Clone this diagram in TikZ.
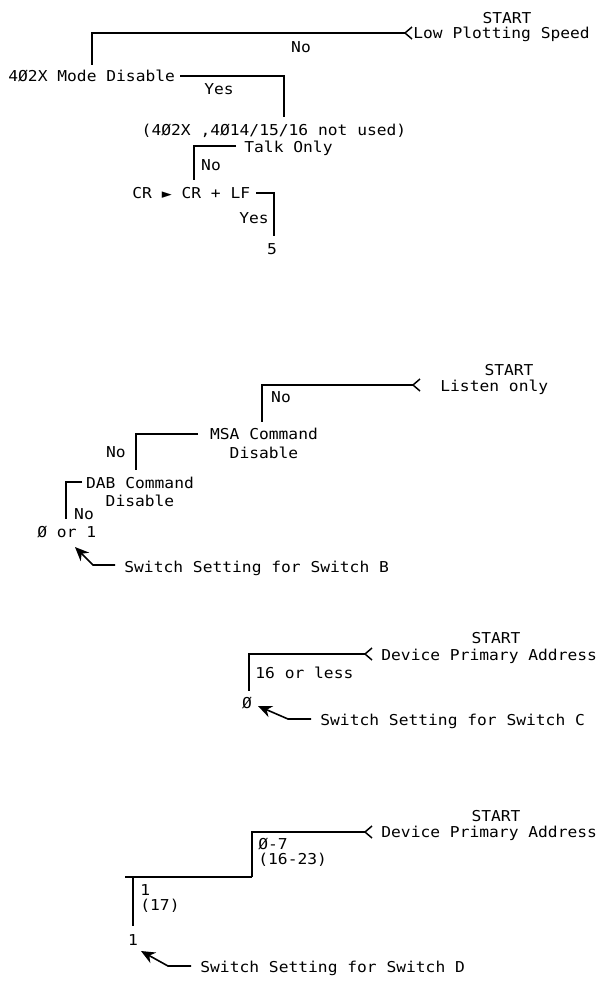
\documentclass[tikz,border=0pt]{standalone}
\usepackage{fontspec}
\usetikzlibrary{arrows.meta}
\newfontfamily\plotfont[FakeStretch=1.085]{DejaVu Sans Mono}
\newfontfamily\symfont{DejaVu Sans}
\begin{document}
\begin{tikzpicture}[x=0.5pt,y=-0.5pt,
  txt/.style={inner sep=0pt, font=\plotfont\fontsize{7.5}{9}\selectfont, text height=5.4pt, text depth=0pt},
  lbl/.style={txt, anchor=west},
  wire/.style={line width=0.8pt, line join=miter},
  barb/.style={line width=0.75pt},
  pointer/.style={line width=0.8pt, -{Stealth[length=7pt,width=6pt]}}]
\useasboundingbox (0,0) rectangle (602,981);

% ---------- Section 1 ----------
\node[txt] (s1) at (507,18) {START};
\node[lbl] (lps) at (413,33) {Low Plotting Speed};
\coordinate (t1) at (405,33);
\coordinate (c1) at (92,33);
\coordinate (e1) at (92,65);
\draw[wire] (t1) -- (c1) -- (e1);
\draw[barb] (t1) ++(7,-6) -- (t1) -- ++(7,6);
\node[txt] (no1) at (301,47) {No};
\node[lbl] (mode) at (8,76) {4Ø2X Mode Disable};
\coordinate (m1) at (180,76);
\coordinate (m2) at (284,76);
\coordinate (m3) at (284,117);
\draw[wire] (m1) -- (m2) -- (m3);
\node[txt] (yes1) at (219,89) {Yes};
\node[txt] (nu) at (274,130) {(4Ø2X ,4Ø14/15/16 not used)};
\node[lbl] (talk) at (244,147) {Talk Only};
\coordinate (k1) at (236,146);
\coordinate (k2) at (194,146);
\coordinate (k3) at (194,180);
\draw[wire] (k1) -- (k2) -- (k3);
\node[txt] (no2) at (211,165) {No};
\node[lbl] (crlf) at (132,193) {CR {\symfont\fontsize{6.5}{8}\selectfont ►} CR + LF};
\coordinate (l1) at (256,193);
\coordinate (l2) at (274,193);
\coordinate (l3) at (274,236);
\draw[wire] (l1) -- (l2) -- (l3);
\node[txt] (yes2) at (254,218) {Yes};
\node[txt] (five) at (272,249) {5};

% ---------- Section 2 ----------
\node[txt] (s2) at (509,370) {START};
\node[lbl] (listen) at (440,386) {Listen only};
\coordinate (t2) at (413,385);
\coordinate (c2) at (262,385);
\coordinate (e2) at (262,422);
\draw[wire] (t2) -- (c2) -- (e2);
\draw[barb] (t2) ++(7,-6) -- (t2) -- ++(7,6);
\node[txt] (no3) at (281,397) {No};
\node[txt] (msa1) at (264,434) {MSA Command};
\node[txt] (msa2) at (264,453) {Disable};
\coordinate (n1) at (198,434);
\coordinate (n2) at (136,434);
\coordinate (n3) at (136,470);
\draw[wire] (n1) -- (n2) -- (n3);
\node[txt] (no4) at (116,452) {No};
\node[txt] (dab1) at (140,483) {DAB Command};
\node[txt] (dab2) at (140,501) {Disable};
\coordinate (d1) at (82,482);
\coordinate (d2) at (66,482);
\coordinate (d3) at (66,519);
\draw[wire] (d1) -- (d2) -- (d3);
\node[txt] (no5) at (84,514) {No};
\node[lbl] (zo) at (37,532) {Ø or 1};
\node[lbl] (swb) at (124,567) {Switch Setting for Switch B};
\coordinate (b1) at (115,565);
\coordinate (b2) at (93,565);
\coordinate (b3) at (75,547);
\draw[pointer] (b1) -- (b2) -- (b3);

% ---------- Section 3 ----------
\node[txt] (s3) at (496,638) {START};
\node[lbl] (dpa1) at (381,655) {Device Primary Address};
\coordinate (t3) at (365,654);
\coordinate (c3) at (249,654);
\coordinate (e3) at (249,691);
\draw[wire] (t3) -- (c3) -- (e3);
\draw[barb] (t3) ++(7,-6) -- (t3) -- ++(7,6);
\node[lbl] (less) at (255,673) {16 or less};
\node[txt] (zero) at (247,703) {Ø};
\node[lbl] (swc) at (320,720) {Switch Setting for Switch C};
\coordinate (q1) at (311,719);
\coordinate (q2) at (288,719);
\coordinate (q3) at (258,706);
\draw[pointer] (q1) -- (q2) -- (q3);

% ---------- Section 4 ----------
\node[txt] (s4) at (496,816) {START};
\node[lbl] (dpa2) at (381,832) {Device Primary Address};
\coordinate (t4) at (365,832);
\coordinate (c4) at (252,832);
\coordinate (e4) at (252,877);
\draw[wire] (t4) -- (c4) -- (e4);
\draw[barb] (t4) ++(7,-6) -- (t4) -- ++(7,6);
\node[lbl] (r07) at (258,844) {Ø-7};
\node[lbl] (r1623) at (258,859) {(16-23)};
\coordinate (f1) at (125,877);
\coordinate (f2) at (133,877);
\coordinate (f3) at (133,926);
\draw[wire] (e4) -- (f1);
\draw[wire] (f2) -- (f3);
\node[lbl] (one1) at (140,890) {1};
\node[lbl] (r17) at (140,905) {(17)};
\node[txt] (one2) at (133,940) {1};
\node[lbl] (swd) at (200,967) {Switch Setting for Switch D};
\coordinate (p1) at (191,966);
\coordinate (p2) at (168,966);
\coordinate (p3) at (141,951);
\draw[pointer] (p1) -- (p2) -- (p3);
\end{tikzpicture}
\end{document}
